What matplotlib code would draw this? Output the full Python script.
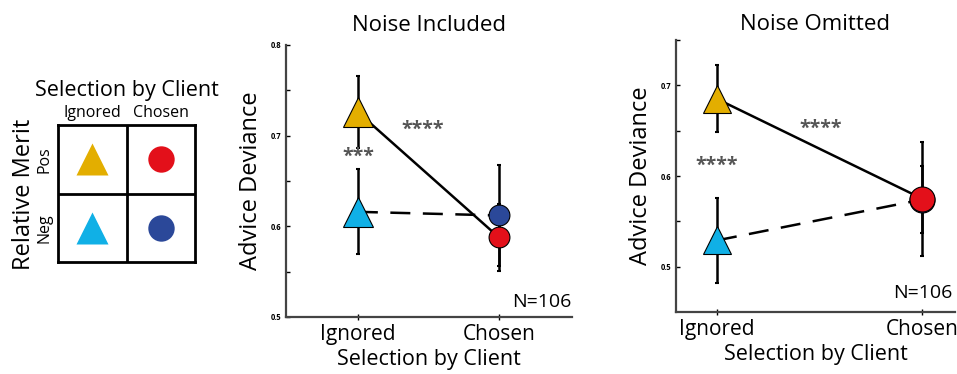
import matplotlib
matplotlib.use("Agg")
import matplotlib.pyplot as plt
import numpy as np

plt.rcParams['font.family'] = ['Open Sans', 'DejaVu Sans']

# ---- data ----
categories = ["Ignored", "Chosen"]
conditions = ["Pos", "Neg"]

# Noise Included
inc_pos = [0.726, 0.588]      # Pos merit: Ignored (triangle), Chosen (circle)
inc_pos_err = [0.040, 0.037]
inc_neg = [0.616, 0.612]
inc_neg_err = [0.047, 0.056]
inc_stars_between = "****"
inc_stars_within = "***"

# Noise Omitted
omi_pos = [0.685, 0.575]
omi_pos_err = [0.037, 0.063]
omi_neg = [0.529, 0.574]
omi_neg_err = [0.047, 0.037]
omi_stars_between = "****"
omi_stars_within = "****"

n_label = "N=106"

YELLOW = "#E3AE00"
RED = "#E3101A"
CYAN = "#10B0E6"
BLUE = "#2B4899"

fig = plt.figure(figsize=(9.57, 3.74), dpi=100)

# ---- legend grid panel ----
axl = fig.add_axes([58/957, 1-262/374, 137/957, 137/374])
axl.set_xlim(0, 2)
axl.set_ylim(0, 2)
for s in axl.spines.values():
    s.set_linewidth(2)
    s.set_color("black")
axl.axvline(1, color="black", lw=2)
axl.axhline(1, color="black", lw=2)
axl.set_xticks([])
axl.set_yticks([])
axl.plot([0.5], [1.5], marker="^", ms=23, color=YELLOW, mec="none", ls="none")
axl.plot([1.5], [1.5], marker="o", ms=19, color=RED, mec="none", ls="none")
axl.plot([0.5], [0.5], marker="^", ms=23, color=CYAN, mec="none", ls="none")
axl.plot([1.5], [0.5], marker="o", ms=19, color=BLUE, mec="none", ls="none")
axl.text(1.0, 2.5, "Selection by Client", ha="center", va="center", fontsize=15.5)
axl.text(0.5, 2.17, categories[0], ha="center", va="center", fontsize=11.5)
axl.text(1.5, 2.17, categories[1], ha="center", va="center", fontsize=11.5)
axl.text(-0.2, 1.5, conditions[0], ha="center", va="center", rotation=90, fontsize=11.5)
axl.text(-0.2, 0.5, conditions[1], ha="center", va="center", rotation=90, fontsize=11.5)
axl.text(-0.5, 0.98, "Relative Merit", ha="center", va="center", rotation=90, fontsize=17)


def panel(ax, pos, pos_err, neg, neg_err, ylim, yticks, ylabels, xlim,
          s_between, s_between_xy, s_within, s_within_xy, tri_ms, circ_ms, n_xy,
          title, title_pad):
    x = np.arange(len(categories))
    ax.set_xlim(*xlim)
    ax.set_ylim(*ylim)
    # lines
    ax.plot(x, neg, color="black", lw=1.8, ls=(0, (8, 5)), zorder=2)
    ax.plot(x, pos, color="black", lw=1.8, zorder=2)
    # error bars
    for vals, errs in ((neg, neg_err), (pos, pos_err)):
        ax.errorbar(x, vals, yerr=errs, fmt="none", ecolor="black", elinewidth=1.8,
                    capsize=1.5, capthick=1.5, zorder=3)
    # markers
    ax.plot([x[0]], [neg[0]], marker="^", ms=tri_ms, color=CYAN, mec="black", mew=0.8, ls="none", zorder=4)
    ax.plot([x[0]], [pos[0]], marker="^", ms=tri_ms, color=YELLOW, mec="black", mew=0.8, ls="none", zorder=4)
    ax.plot([x[1]], [neg[1]], marker="o", ms=circ_ms, color=BLUE, mec="black", mew=0.8, ls="none", zorder=4)
    ax.plot([x[1]], [pos[1]], marker="o", ms=circ_ms, color=RED, mec="black", mew=0.8, ls="none", zorder=5)
    # stars
    ax.text(*s_between_xy, s_between, ha="center", va="center", fontsize=14, color="#555555", fontweight="bold")
    ax.text(*s_within_xy, s_within, ha="center", va="center", fontsize=14, color="#555555", fontweight="bold")
    ax.text(*n_xy, n_label, ha="right", va="center", fontsize=14, transform=ax.transAxes)
    # axes styling
    for side in ("top", "right"):
        ax.spines[side].set_visible(False)
    for side in ("left", "bottom"):
        ax.spines[side].set_color("#444444")
        ax.spines[side].set_linewidth(1.6)
    ax.set_yticks(yticks)
    ax.set_yticklabels(ylabels, fontsize=5.5, fontweight="bold")
    ax.tick_params(axis="y", direction="in", length=3, width=1, pad=3)
    ax.set_xticks(x)
    ax.set_xticklabels(categories, fontsize=15)
    ax.tick_params(axis="x", direction="inout", length=4, width=1, pad=3)
    ax.set_ylabel("Advice Deviance", fontsize=17, labelpad=6)
    ax.set_xlabel("Selection by Client", fontsize=15.5, labelpad=3)
    ax.set_title(title, fontsize=16, pad=title_pad)


ax1 = fig.add_axes([286/957, 1-317/374, 286/957, 272/374])
panel(ax1, inc_pos, inc_pos_err, inc_neg, inc_neg_err,
      (0.5, 0.8), [0.5, 0.55, 0.6, 0.65, 0.7, 0.75, 0.8],
      ["0.5", "", "0.6", "", "0.7", "", "0.8"], (-0.51, 1.52),
      inc_stars_between, (0.46, 0.706), inc_stars_within, (0.0, 0.677),
      21, 15, (1.0, 0.055), "Noise Included", 10)

ax2 = fig.add_axes([676/957, 1-312/374, 279/957, 272/374])
panel(ax2, omi_pos, omi_pos_err, omi_neg, omi_neg_err,
      (0.45, 0.75), [0.5, 0.55, 0.6, 0.65, 0.7, 0.75],
      ["0.5", "", "0.6", "", "0.7", ""], (-0.2, 1.16),
      omi_stars_between, (0.505, 0.652), omi_stars_within, (0.0, 0.611),
      20, 18, (0.99, 0.07), "Noise Omitted", 7)

fig.savefig("out.png", dpi=100)
